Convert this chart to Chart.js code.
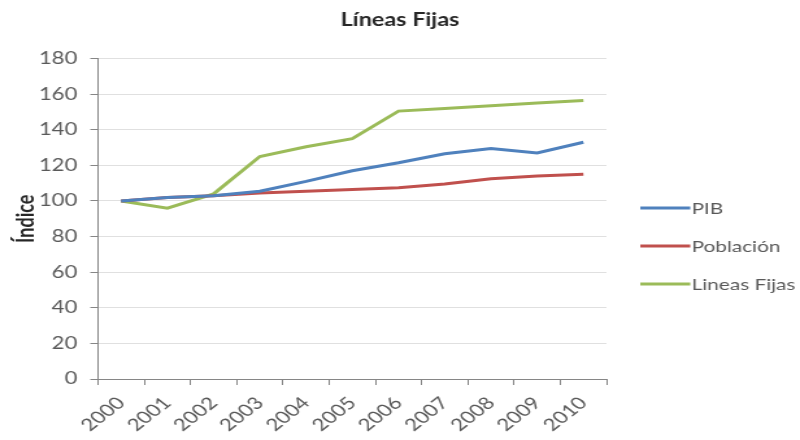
<!DOCTYPE html>
<html>
<head>
<meta charset="utf-8">
<script src="https://cdn.jsdelivr.net/npm/chart.js@4.4.1/dist/chart.umd.min.js"></script>
<style>
  html, body { margin: 0; padding: 0; background: #ffffff; overflow: hidden; }
  #wrap { width: 616px; height: 440px; transform: scaleX(1.2987); transform-origin: 0 0; }
  canvas { display: block; }
</style>
</head>
<body>
<div id="wrap"><canvas id="chart" width="616" height="440"></canvas></div>
<script>
// Índices base 2000 = 100
const years = ['2000', '2001', '2002', '2003', '2004', '2005', '2006', '2007', '2008', '2009', '2010'];
const pib = [100, 102, 103, 105.5, 111, 117, 121.5, 126.5, 129.5, 127, 133];
const poblacion = [100, 102, 103, 104.5, 105.5, 106.5, 107.5, 109.5, 112.5, 114, 115];
const lineasFijas = [100, 96, 104, 125, 130.5, 135, 150.5, 152, 153.5, 155, 156.5];
const seriesNames = ['PIB', 'Población', 'Lineas Fijas'];
const seriesColors = ['#4F81BD', '#C0504D', '#9BBB59'];

const FONT = 'Lato, "Open Sans", sans-serif';

// Legend as its own layout box on the right: line sample followed by the series name
const sideLegend = {
  id: 'sideLegend',
  start(chart) {
    const box = {
      position: 'right',
      fullSize: false,
      weight: 1000,
      options: {},
      left: 0, top: 0, right: 0, bottom: 0, width: 0, height: 0,
      isHorizontal() { return false; },
      update(maxWidth, maxHeight) {
        this.width = 149;
        this.height = maxHeight;
      },
      draw() {
        const ctx = chart.ctx;
        const x0 = this.left + 26;
        const x1 = this.left + 64.5;
        const firstY = 208;
        const gap = 38;
        ctx.save();
        ctx.font = '16px ' + FONT;
        ctx.textAlign = 'left';
        ctx.textBaseline = 'middle';
        chart.data.datasets.forEach((ds, i) => {
          const y = firstY + i * gap;
          ctx.strokeStyle = ds.borderColor;
          ctx.lineWidth = 3;
          ctx.beginPath();
          ctx.moveTo(x0, y);
          ctx.lineTo(x1, y);
          ctx.stroke();
          ctx.fillStyle = '#595959';
          ctx.fillText(ds.label, x1 + 1, y + 1);
        });
        ctx.restore();
      }
    };
    Chart.layouts.addBox(chart, box);
  }
};

new Chart(document.getElementById('chart'), {
  type: 'line',
  data: {
    labels: years,
    datasets: [pib, poblacion, lineasFijas].map((values, i) => ({
      label: seriesNames[i],
      data: values,
      borderColor: seriesColors[i],
      backgroundColor: seriesColors[i],
      borderWidth: 3,
      pointRadius: 0,
      tension: 0,
      fill: false
    }))
  },
  options: {
    responsive: false,
    animation: false,
    devicePixelRatio: 1,
    layout: { padding: 0 },
    plugins: {
      legend: { display: false },
      tooltip: { enabled: false },
      title: {
        display: true,
        text: 'Líneas Fijas',
        color: '#262626',
        font: { family: FONT, size: 18, weight: 'bold' },
        padding: { top: 9, bottom: 28 }
      }
    },
    scales: {
      x: {
        offset: true,
        grid: {
          offset: true,
          drawOnChartArea: false,
          drawTicks: true,
          tickLength: 6,
          tickColor: '#868686'
        },
        border: { color: '#868686', width: 1 },
        ticks: {
          color: '#595959',
          font: { family: FONT, size: 17 },
          minRotation: 45,
          maxRotation: 45,
          padding: 8,
          autoSkip: false
        },
        afterFit(scale) { scale.height = 61; }
      },
      y: {
        min: 0,
        max: 180,
        grid: {
          color: '#E0E0E0',
          tickLength: 6,
          tickColor: '#868686'
        },
        border: { color: '#868686', width: 1 },
        ticks: {
          stepSize: 20,
          color: '#595959',
          font: { family: FONT, size: 17 },
          padding: 10
        },
        title: {
          display: true,
          text: 'Índice',
          color: '#262626',
          font: { family: FONT, size: 18, weight: 'bold' },
          padding: { top: 9, bottom: 0 }
        },
        afterFit(scale) { scale.width = 75.5; }
      }
    }
  },
  plugins: [sideLegend]
});
</script>
</body>
</html>
